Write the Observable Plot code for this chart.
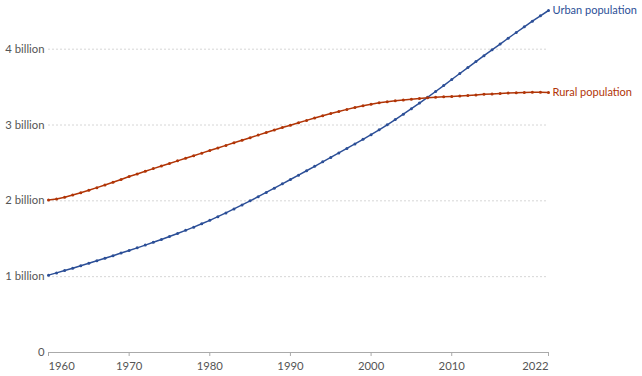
<!DOCTYPE html>
<html>
<head>
<meta charset="utf-8">
<script src="https://cdn.jsdelivr.net/npm/d3@7"></script>
<script src="https://cdn.jsdelivr.net/npm/@observablehq/plot@0.6"></script>
<style>
  html, body { margin: 0; padding: 0; background: #fff; }
  #chart { width: 642px; height: 376px; }
</style>
</head>
<body>
<div id="chart"></div>
<script>
const years = d3.range(1960, 2023);

// World urban population, billions
const urban = [
  1.020, 1.050, 1.081, 1.112, 1.144, 1.176, 1.209, 1.242, 1.276, 1.311,
  1.345, 1.380, 1.416, 1.453, 1.491, 1.530, 1.570, 1.611, 1.653, 1.697,
  1.743, 1.791, 1.841, 1.893, 1.946, 2.000, 2.055, 2.111, 2.167, 2.224,
  2.281, 2.339, 2.397, 2.455, 2.514, 2.573, 2.632, 2.691, 2.751, 2.811,
  2.872, 2.936, 3.003, 3.072, 3.143, 3.216, 3.290, 3.365, 3.442, 3.520,
  3.600, 3.679, 3.758, 3.836, 3.914, 3.991, 4.068, 4.144, 4.220, 4.295,
  4.369, 4.440, 4.510
];

// World rural population, billions
const rural = [
  2.010, 2.025, 2.048, 2.076, 2.107, 2.140, 2.174, 2.209, 2.245, 2.281,
  2.320, 2.355, 2.390, 2.425, 2.459, 2.493, 2.527, 2.561, 2.595, 2.629,
  2.663, 2.697, 2.731, 2.765, 2.799, 2.833, 2.867, 2.900, 2.933, 2.966,
  2.998, 3.030, 3.061, 3.092, 3.122, 3.151, 3.179, 3.206, 3.231, 3.254,
  3.275, 3.292, 3.307, 3.320, 3.331, 3.341, 3.350, 3.358, 3.365, 3.371,
  3.376, 3.383, 3.390, 3.397, 3.404, 3.410, 3.416, 3.421, 3.426, 3.430,
  3.433, 3.433, 3.430
];

const seriesNames = ["Urban population", "Rural population"];
const seriesColors = ["#2c4f97", "#b13507"];
const xTicks = [1960, 1970, 1980, 1990, 2000, 2010, 2022];
const xTicksMiddle = [1970, 1980, 1990, 2000, 2010];
const yTicks = [0, 1, 2, 3, 4];
const gridTicks = [1, 2, 3, 4];

const data = [];
years.forEach((y, i) => {
  data.push({year: y, value: urban[i], series: seriesNames[0]});
  data.push({year: y, value: rural[i], series: seriesNames[1]});
});

const labelFill = "#555555";

const chart = Plot.plot({
  width: 642,
  height: 376,
  marginLeft: 48,
  marginRight: 94,
  marginTop: 10,
  marginBottom: 24,
  style: {fontFamily: "Lato, sans-serif", fontSize: "11.3px", color: labelFill, background: "#fff"},
  x: {domain: [1960, 2022], label: null},
  y: {domain: [0, 4.51], label: null},
  color: {domain: seriesNames, range: seriesColors},
  marks: [
    Plot.ruleY(gridTicks, {stroke: "#d6d6d6", strokeDasharray: "2,2", strokeWidth: 1}),
    Plot.ruleY([0], {stroke: "#aaaaaa", strokeWidth: 1}),
    Plot.axisX({ticks: xTicks, tickSize: 4, stroke: "#aaaaaa", text: null, label: null}),
    Plot.axisX({ticks: xTicksMiddle, tickFormat: d => String(d), tickSize: 0, tickPadding: 9, fill: labelFill, label: null}),
    Plot.axisX({ticks: [xTicks[0]], tickFormat: d => String(d), tickSize: 0, tickPadding: 9, textAnchor: "start", fill: labelFill, label: null}),
    Plot.axisX({ticks: [xTicks[xTicks.length - 1]], tickFormat: d => String(d), tickSize: 0, tickPadding: 9, textAnchor: "end", fill: labelFill, label: null}),
    Plot.axisY({ticks: yTicks, tickFormat: d => d === 0 ? "0" : d + " billion", tickSize: 0, tickPadding: 4, fill: labelFill, label: null}),
    Plot.line(data, {x: "year", y: "value", z: "series", stroke: "series", strokeWidth: 1.5}),
    Plot.dot(data, {x: "year", y: "value", fill: "series", r: 1.5}),
    Plot.text(data, Plot.selectLast({
      x: "year", y: "value", z: "series", text: "series", fill: "series",
      textAnchor: "start", dx: 4, fontSize: 11
    }))
  ]
});
document.getElementById("chart").appendChild(chart);
</script>
</body>
</html>
